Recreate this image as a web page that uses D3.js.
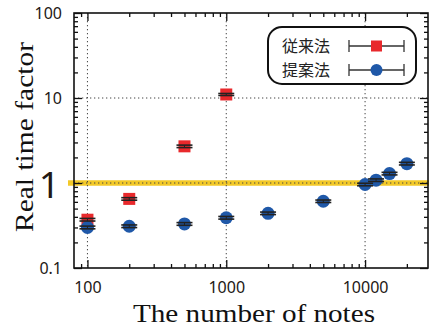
<!DOCTYPE html>
<html>
<head>
<meta charset="utf-8">
<script src="https://cdn.jsdelivr.net/npm/d3@7"></script>
<style>
  body { margin: 0; background: #fff; }
  svg { display: block; }
  .tick-label { font-family: "Noto Sans", sans-serif; font-size: 16px; fill: #231815; }
  .axis-title { font-family: "Liberation Serif", "DejaVu Serif", serif; font-size: 25px; fill: #111; }
  .legend-text { font-family: "Noto Sans CJK JP", sans-serif; font-size: 16px; fill: #222; }
</style>
</head>
<body>
<svg id="chart" width="429" height="329"></svg>
<script>
// Conventional method (従来法)
var convNotes = [100, 200, 500, 1000];
var convRtf   = [0.37, 0.65, 2.7, 11];
var convErr   = [0.013, 0.022, 0.09, 0.3];

// Proposed method (提案法)
var propNotes = [100, 200, 500, 1000, 2000, 5000, 10000, 12000, 15000, 20000];
var propRtf   = [0.30, 0.31, 0.33, 0.39, 0.44, 0.61, 0.96, 1.08, 1.29, 1.69];
var propErr   = [0.011, 0.011, 0.012, 0.014, 0.015, 0.02, 0.033, 0.037, 0.045, 0.06];

var xMajor = [100, 1000, 10000];
var yMajor = [0.1, 1, 10, 100];
var legendLabels = ["従来法", "提案法"];

var plotLeft = 74, plotRight = 428, plotTop = 13, plotBottom = 268;
var red = "#e8292c", blue = "#1f58a8";

var svg = d3.select("#chart");

var x = d3.scaleLog().domain([80, 28400]).range([plotLeft, plotRight]);
var y = d3.scaleLog().domain([0.1, 100]).range([plotBottom, plotTop]);

// minor tick values
var xMinor = [];
[10, 100, 1000, 10000].forEach(function(d) {
    for (var i = 2; i <= 9; i++) { if (d * i > 80 && d * i < 28400) xMinor.push(d * i) }
});
var yMinor = [];
[0.1, 1, 10].forEach(function(d) {
    for (var i = 2; i <= 9; i++) yMinor.push(d * i)
});

// Threshold line at real time factor 1
svg.append("line")
    .attr("x1", 68).attr("x2", 429)
    .attr("y1", y(1)).attr("y2", y(1))
    .style("stroke", "#f3c928")
    .style("stroke-width", 5.5);

// Dotted grid on major values
var grid = svg.append("g").attr("class", "grid");
grid.selectAll(".vgrid")
    .data(xMajor)
    .enter().append("line")
        .attr("x1", function(d) { return x(d) })
        .attr("x2", function(d) { return x(d) })
        .attr("y1", plotTop).attr("y2", plotBottom)
        .style("stroke", "#444").style("stroke-width", 1)
        .style("stroke-dasharray", "1.3,2.7");
grid.selectAll(".hgrid")
    .data([1, 10])
    .enter().append("line")
        .attr("x1", plotLeft).attr("x2", plotRight)
        .attr("y1", function(d) { return y(d) })
        .attr("y2", function(d) { return y(d) })
        .style("stroke", "#444").style("stroke-width", 1)
        .style("stroke-dasharray", "1.3,2.7");

// Axes: ticks pointing inward on all four sides
function styleAxis(g) {
    g.select(".domain").remove();
    g.selectAll(".tick line").style("stroke", "#111").style("stroke-width", 1.3);
}

svg.append("g")
    .attr("transform", "translate(0," + plotBottom + ")")
    .call(d3.axisBottom(x).tickValues(xMajor).tickSize(-8).tickPadding(14).tickFormat(d3.format("d")))
    .call(styleAxis)
    .selectAll("text").attr("class", "tick-label");
svg.append("g")
    .attr("transform", "translate(0," + plotBottom + ")")
    .call(d3.axisBottom(x).tickValues(xMinor).tickSize(-4).tickFormat(""))
    .call(styleAxis);
svg.append("g")
    .attr("transform", "translate(0," + plotTop + ")")
    .call(d3.axisTop(x).tickValues(xMajor).tickSize(-8).tickFormat(""))
    .call(styleAxis);
svg.append("g")
    .attr("transform", "translate(0," + plotTop + ")")
    .call(d3.axisTop(x).tickValues(xMinor).tickSize(-4).tickFormat(""))
    .call(styleAxis);

var yAxis = svg.append("g")
    .attr("transform", "translate(" + plotLeft + ",0)")
    .call(d3.axisLeft(y).tickValues(yMajor).tickSize(-8).tickPadding(12).tickFormat(function(d) { return d < 1 ? "0.1" : d3.format("d")(d) }))
    .call(styleAxis);
yAxis.selectAll("text").attr("class", "tick-label");
// the "1" label is drawn large
yAxis.selectAll(".tick").filter(function(d) { return d === 1 })
    .select("text")
        .style("font-size", "37px")
        .attr("x", -14)
        .attr("dy", "0.39em");
svg.append("g")
    .attr("transform", "translate(" + plotLeft + ",0)")
    .call(d3.axisLeft(y).tickValues(yMinor).tickSize(-4).tickFormat(""))
    .call(styleAxis);
svg.append("g")
    .attr("transform", "translate(" + plotRight + ",0)")
    .call(d3.axisRight(y).tickValues(yMajor).tickSize(-8).tickFormat(""))
    .call(styleAxis);
svg.append("g")
    .attr("transform", "translate(" + plotRight + ",0)")
    .call(d3.axisRight(y).tickValues(yMinor).tickSize(-4).tickFormat(""))
    .call(styleAxis);

// Frame
svg.append("rect")
    .attr("x", plotLeft).attr("y", plotTop)
    .attr("width", plotRight - plotLeft).attr("height", plotBottom - plotTop)
    .style("fill", "none").style("stroke", "#111").style("stroke-width", 1.6);

// Markers
var conv = convNotes.map(function(d, i) { return { n: d, v: convRtf[i], e: convErr[i] } });
var prop = propNotes.map(function(d, i) { return { n: d, v: propRtf[i], e: propErr[i] } });

svg.selectAll(".conv")
    .data(conv)
    .enter().append("rect")
        .attr("class", "conv")
        .attr("x", function(d) { return x(d.n) - 6 })
        .attr("y", function(d) { return y(d.v) - 6 })
        .attr("width", 12).attr("height", 12)
        .style("fill", red);

svg.selectAll(".prop")
    .data(prop)
    .enter().append("circle")
        .attr("class", "prop")
        .attr("cx", function(d) { return x(d.n) })
        .attr("cy", function(d) { return y(d.v) })
        .attr("r", 6.5)
        .style("fill", blue);

// Error bars drawn over the markers
function errorBars(data) {
    var g = svg.append("g").style("stroke", "#222").style("stroke-width", 1.6);
    g.selectAll(".stem")
        .data(data)
        .enter().append("line")
            .attr("x1", function(d) { return x(d.n) })
            .attr("x2", function(d) { return x(d.n) })
            .attr("y1", function(d) { return y(d.v - d.e) })
            .attr("y2", function(d) { return y(d.v + d.e) })
            .style("stroke-width", 1);
    [-1, 1].forEach(function(s) {
        g.selectAll(".cap" + s)
            .data(data)
            .enter().append("line")
                .attr("x1", function(d) { return x(d.n) - 8 })
                .attr("x2", function(d) { return x(d.n) + 8 })
                .attr("y1", function(d) { return y(d.v + s * d.e) })
                .attr("y2", function(d) { return y(d.v + s * d.e) });
    });
}
errorBars(conv);
errorBars(prop);

// Legend
var legend = svg.append("g");
legend.append("rect")
    .attr("x", 268).attr("y", 27)
    .attr("width", 148).attr("height", 57)
    .attr("rx", 14).attr("ry", 14)
    .style("fill", "#fff").style("stroke", "#111").style("stroke-width", 2);

legendLabels.forEach(function(label, i) {
    var cy = 46 + i * 24;
    legend.append("text")
        .attr("class", "legend-text")
        .attr("x", 282).attr("y", cy)
        .attr("dy", "0.36em")
        .text(label);
    var lg = legend.append("g").style("stroke", "#333").style("stroke-width", 1.3);
    lg.append("line").attr("x1", 349).attr("x2", 404).attr("y1", cy).attr("y2", cy);
    lg.append("line").attr("x1", 349).attr("x2", 349).attr("y1", cy - 6).attr("y2", cy + 6);
    lg.append("line").attr("x1", 404).attr("x2", 404).attr("y1", cy - 6).attr("y2", cy + 6);
    if (i === 0) {
        legend.append("rect").attr("x", 371).attr("y", cy - 5.5).attr("width", 11).attr("height", 11).style("fill", red);
    } else {
        legend.append("circle").attr("cx", 376.5).attr("cy", cy).attr("r", 6).style("fill", blue);
    }
});

// Axis titles
svg.append("text")
    .attr("class", "axis-title")
    .attr("x", 254).attr("y", 322)
    .attr("text-anchor", "middle")
    .attr("textLength", 242)
    .attr("lengthAdjust", "spacingAndGlyphs")
    .text("The number of notes");

svg.append("text")
    .attr("class", "axis-title")
    .attr("transform", "translate(33,137) rotate(-90)")
    .attr("text-anchor", "middle")
    .attr("textLength", 190)
    .attr("lengthAdjust", "spacingAndGlyphs")
    .text("Real time factor");
</script>
</body>
</html>
